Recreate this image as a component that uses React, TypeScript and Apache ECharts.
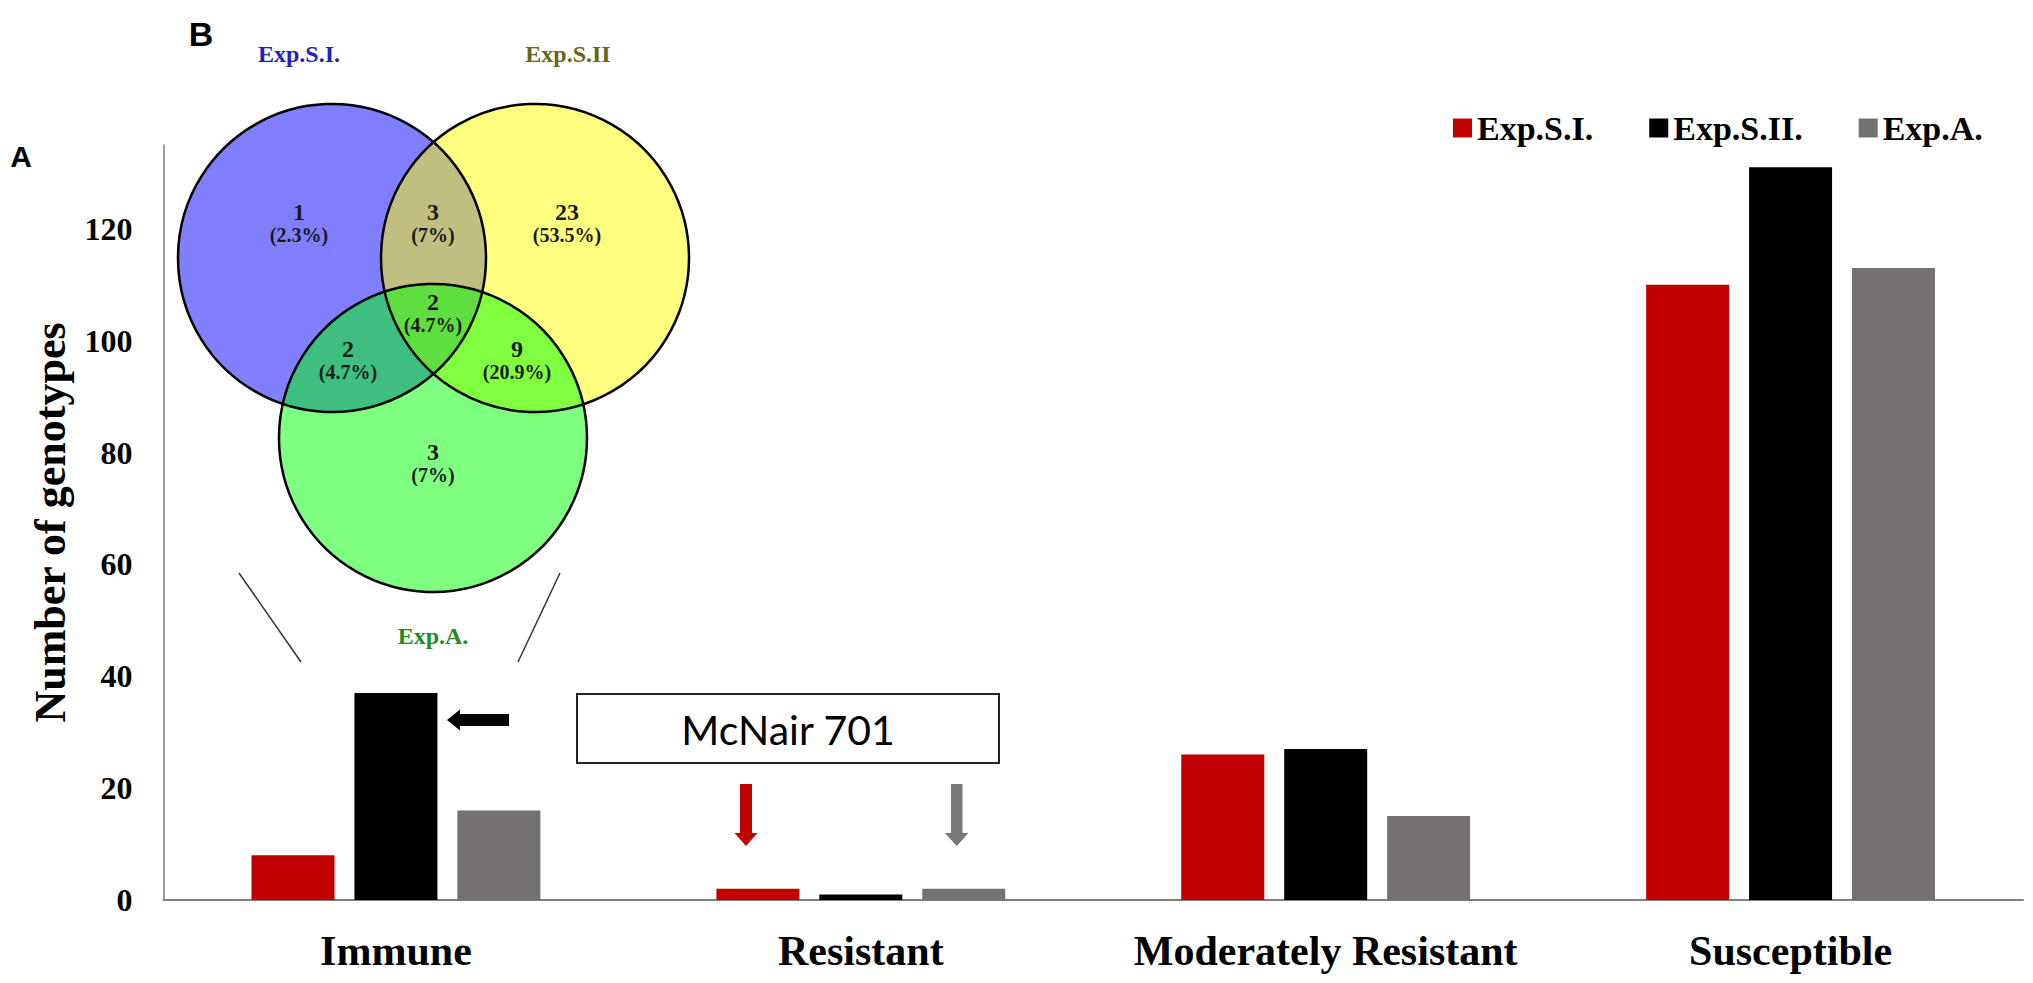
import React, { useEffect, useRef } from 'react';
import * as echarts from 'echarts';

const categories = ['Immune', 'Resistant', 'Moderately Resistant', 'Susceptible'];
const seriesNames = ['Exp.S.I.', 'Exp.S.II.', 'Exp.A.'];
const expSI = [8, 2, 26, 110];
const expSII = [37, 1, 27, 131];
const expA = [16, 2, 15, 113];
const seriesColors = ['#C00000', '#000000', '#767171'];
const yMax = 135;
const yInterval = 20;

// Venn inset (panel B)
const vennTitles = ['Exp.S.I.', 'Exp.S.II', 'Exp.A.'];
const vennCounts = ['1', '3', '23', '2', '2', '9', '3'];
const vennPercents = ['(2.3%)', '(7%)', '(53.5%)', '(4.7%)', '(4.7%)', '(20.9%)', '(7%)'];

const SERIF = "'Liberation Serif', 'Times New Roman', serif";
const SANS = "'Liberation Sans', Arial, sans-serif";

export default function App() {
  const ref = useRef<HTMLDivElement>(null);

  useEffect(() => {
    const chart = echarts.init(ref.current!, null, { renderer: 'svg' });

    const circles = [
      { cx: 332, cy: 258, r: 154, fill: 'rgba(0,0,255,0.5)' },
      { cx: 535, cy: 258, r: 154, fill: 'rgba(255,255,0,0.5)' },
      { cx: 433, cy: 438, r: 154, fill: 'rgba(0,255,0,0.5)' },
    ];
    const regionPos = [
      [299, 212], [433, 212], [567, 212], [433, 302], [348, 349], [517, 349], [433, 452],
    ];
    const titlePos = [[299, 54], [568, 54], [433, 636]];
    const titleColors = ['#1F1FC4', '#66661E', '#1E8C1E'];

    const txt = (text: string, x: number, y: number, size: number, fill: string, family = SERIF, weight = 'bold') => ({
      type: 'text',
      x,
      y,
      z: 10,
      style: {
        text,
        fill,
        fontSize: size,
        fontWeight: weight,
        fontFamily: family,
        align: 'center',
        verticalAlign: 'middle',
        textAlign: 'center',
        textVerticalAlign: 'middle',
      },
    });

    const graphics: any[] = [];
    circles.forEach((c) =>
      graphics.push({ type: 'circle', z: 5, shape: { cx: c.cx, cy: c.cy, r: c.r }, style: { fill: c.fill } })
    );
    circles.forEach((c) =>
      graphics.push({
        type: 'circle',
        z: 6,
        shape: { cx: c.cx, cy: c.cy, r: c.r },
        style: { fill: 'none', stroke: '#000', lineWidth: 2.5 },
      })
    );
    vennCounts.forEach((n, i) => {
      graphics.push(txt(n, regionPos[i][0], regionPos[i][1], 24, '#1a1a1a'));
      graphics.push(txt(vennPercents[i], regionPos[i][0], regionPos[i][1] + 23, 20, '#1a1a1a'));
    });
    vennTitles.forEach((t, i) => graphics.push(txt(t, titlePos[i][0], titlePos[i][1], 24, titleColors[i])));

    // zoom lines from the Immune group to the inset
    graphics.push({ type: 'line', shape: { x1: 239, y1: 573, x2: 301, y2: 662 }, style: { stroke: '#333', lineWidth: 1.5 } });
    graphics.push({ type: 'line', shape: { x1: 560, y1: 573, x2: 518, y2: 662 }, style: { stroke: '#333', lineWidth: 1.5 } });

    // panel letters
    graphics.push(txt('A', 21, 156, 30, '#000', SANS));
    graphics.push(txt('B', 201, 34, 34, '#000', SANS));

    // McNair 701 box
    graphics.push({
      type: 'rect',
      shape: { x: 577, y: 694, width: 422, height: 69 },
      style: { fill: '#fff', stroke: '#222', lineWidth: 2 },
    });
    graphics.push(txt('McNair 701', 788, 729, 41, '#000', "Lato, 'Open Sans', sans-serif", 'normal'));

    // arrows
    graphics.push({
      type: 'polygon',
      shape: { points: [[447, 720], [460, 709.5], [460, 714], [509, 714], [509, 726], [460, 726], [460, 730.5]] },
      style: { fill: '#000' },
    });
    graphics.push({
      type: 'polygon',
      shape: { points: [[740, 784], [752, 784], [752, 833], [757.5, 833], [746, 846], [734.5, 833], [740, 833]] },
      style: { fill: '#C00000' },
    });
    graphics.push({
      type: 'polygon',
      shape: { points: [[951, 784], [962.5, 784], [962.5, 833], [968.5, 833], [956.7, 846], [945, 833], [951, 833]] },
      style: { fill: '#777777' },
    });

    const values = [expSI, expSII, expA];

    chart.setOption({
      animation: false,
      backgroundColor: '#ffffff',
      grid: { left: 163.5, right: 10, top: 145, bottom: 83, containLabel: false },
      legend: {
        data: seriesNames,
        left: 1448,
        top: 106,
        icon: 'rect',
        itemWidth: 19,
        itemHeight: 19,
        itemGap: 56,
        textStyle: {
          fontFamily: SERIF,
          fontWeight: 'bold',
          fontSize: 34,
          lineHeight: 34,
          color: '#000',
        },
      },
      xAxis: {
        type: 'category',
        data: categories,
        axisLine: { show: true, lineStyle: { color: '#7f7f7f', width: 2 } },
        axisTick: { show: false },
        axisLabel: {
          interval: 0,
          margin: 30,
          fontFamily: SERIF,
          fontWeight: 'bold',
          fontSize: 42,
          lineHeight: 42,
          color: '#000',
        },
      },
      yAxis: {
        type: 'value',
        min: 0,
        max: yMax,
        interval: yInterval,
        name: 'Number of genotypes',
        nameLocation: 'middle',
        nameRotate: 90,
        nameGap: 91,
        nameTextStyle: { fontFamily: SERIF, fontWeight: 'bold', fontSize: 44, color: '#000' },
        axisLine: { show: true, lineStyle: { color: '#7f7f7f', width: 1.5 } },
        axisTick: { show: false },
        splitLine: { show: false },
        axisLabel: {
          margin: 31,
          fontFamily: SERIF,
          fontWeight: 'bold',
          fontSize: 32,
          color: '#000',
          formatter: (v: number) => (v % yInterval === 0 ? String(v) : ''),
        },
      },
      series: seriesNames.map((name, i) => ({
        name,
        type: 'bar',
        data: values[i],
        barWidth: 83,
        barGap: '24%',
        itemStyle: { color: seriesColors[i] },
      })),
      graphic: { elements: graphics },
    });

    return () => chart.dispose();
  }, []);

  return (
    <div
      ref={ref}
      style={{ position: 'fixed', left: 0, top: 0, width: 2033, height: 983, background: '#fff' }}
    />
  );
}
